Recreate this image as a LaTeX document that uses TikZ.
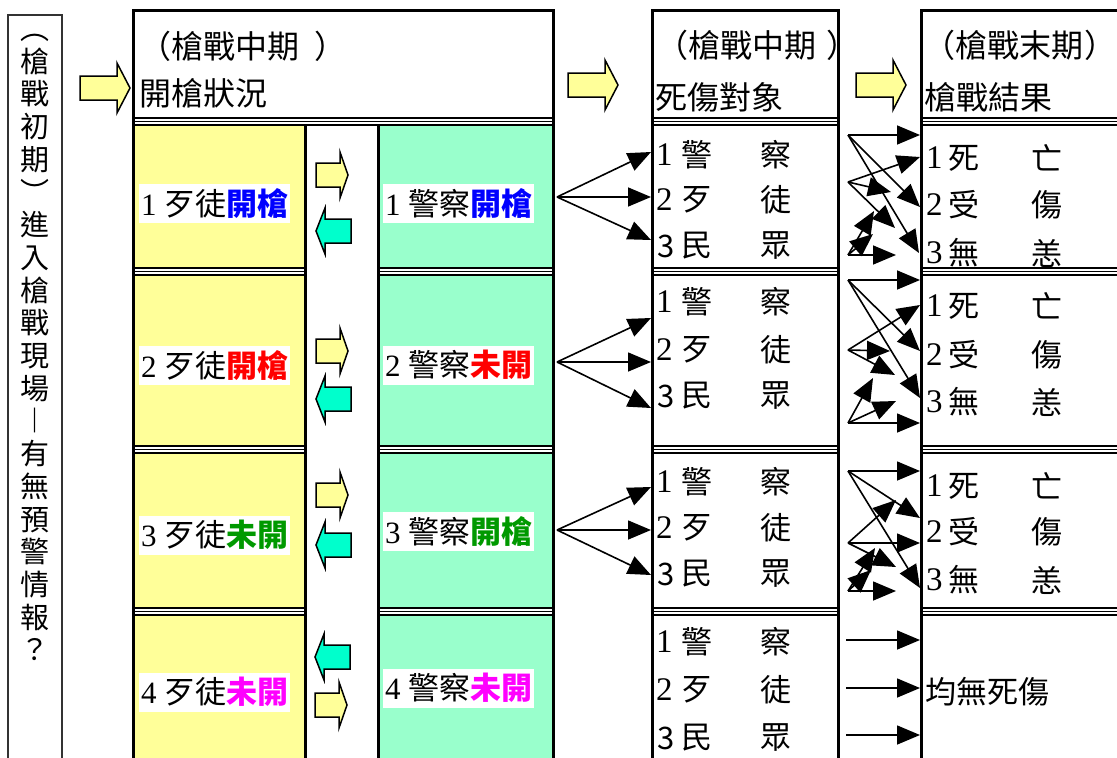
\documentclass[tikz,border=0pt]{standalone}
\usepackage{fontspec}
\setmainfont{Noto Sans CJK TC}
\newfontfamily\dg{Liberation Serif}
\usetikzlibrary{arrows.meta}
\definecolor{cellY}{HTML}{FFFF99}
\definecolor{cellG}{HTML}{99FFCC}
\definecolor{arrC}{HTML}{00FFCC}
\definecolor{txB}{HTML}{0000FF}
\definecolor{txR}{HTML}{FF0000}
\definecolor{txG}{HTML}{009900}
\definecolor{txM}{HTML}{FF00FF}
\begin{document}
\begin{tikzpicture}[x=1pt,y=-1pt,
  frame/.style={line width=3pt},
  conn/.style={line width=1.6pt,-{Triangle[length=23pt,width=19pt]}},
  celltext/.style={anchor=west,fill=white,inner xsep=2pt,inner ysep=0pt,minimum height=39pt,font=\fontsize{31}{31}\selectfont},
  hdr/.style={anchor=west,inner sep=0pt,font=\fontsize{32}{32}\selectfont},
  item/.style={anchor=west,inner sep=0pt,font=\fontsize{31}{31}\selectfont},
  num/.style={anchor=west,inner sep=0pt,font=\fontsize{33}{33}\selectfont},
  pics/bigR/.style={code={\draw[line width=1.5pt,fill=cellY] (0,-12)--(37,-12)--(37,-25)--(50,0)--(37,25)--(37,12)--(0,12)--cycle;}},
  pics/smallR/.style={code={\draw[line width=1.5pt,fill=cellY] (0,-12)--(24,-12)--(24,-23)--(32,0)--(24,23)--(24,12)--(0,12)--cycle;}},
  pics/smallL/.style={code={\draw[line width=1.5pt,fill=arrC] (0,0)--(9,-23)--(9,-12)--(35,-12)--(35,12)--(9,12)--(9,23)--cycle;}},
  pics/sep/.style={code={\fill[white] (0,0) rectangle (#1,8.5);
     \draw[line width=2.4pt] (0,1.2)--(#1,1.2);
     \draw[line width=1.3pt] (0,4.6)--(#1,4.6);
     \draw[line width=2pt] (0,7.5)--(#1,7.5);}}
]
\useasboundingbox (0,0) rectangle (1117,758);
\fill[white] (0,0) rectangle (1117,758);

% column fills
\fill[cellY] (133,125) rectangle (305,780);
\fill[cellG] (378,125) rectangle (553,780);

% cell texts
\node[celltext] (y1) at (139,203) {{\dg 1 }歹徒{\bfseries\color{txB}開槍}};
\node[celltext] (y2) at (139,365) {{\dg 2 }歹徒{\bfseries\color{txR}開槍}};
\node[celltext] (y3) at (139,535) {{\dg 3 }歹徒{\bfseries\color{txG}未開}};
\node[celltext] (y4) at (139,692) {{\dg 4 }歹徒{\bfseries\color{txM}未開}};
\node[celltext] (g1) at (383,203) {{\dg 1 }警察{\bfseries\color{txB}開槍}};
\node[celltext] (g2) at (383,365) {{\dg 2 }警察{\bfseries\color{txR}未開}};
\node[celltext] (g3) at (383,531) {{\dg 3 }警察{\bfseries\color{txG}開槍}};
\node[celltext] (g4) at (383,688) {{\dg 4 }警察{\bfseries\color{txM}未開}};

% column 3 items
\foreach \r/\ya/\yb/\yc in {1/155/200/246,2/302/350/396,3/482/528/574,4/642/690/738}{
  \node[num] (na\r) at (656,\ya) {\dg 1};
  \node[item] (pa\r) at (681,\ya) {警};
  \node[item] (qa\r) at (760,\ya) {察};
  \node[num] (nb\r) at (656,\yb) {\dg 2};
  \node[item] (pb\r) at (681,\yb) {歹};
  \node[item] (qb\r) at (760,\yb) {徒};
  \node[item] (nc\r) at (657,\yc) {3};
  \node[item] (pc\r) at (681,\yc) {民};
  \node[item] (qc\r) at (760,\yc) {眾};
}
% column 4 items
\foreach \r/\ya/\yb/\yc in {1/158/205/253,2/306/355/402,3/486/532/580}{
  \node[num] (ma\r) at (926,\ya) {\dg 1};
  \node[item] (sa\r) at (948,\ya) {死};
  \node[item] (ta\r) at (1031,\ya) {亡};
  \node[num] (mb\r) at (926,\yb) {\dg 2};
  \node[item] (sb\r) at (948,\yb) {受};
  \node[item] (tb\r) at (1031,\yb) {傷};
  \node[num] (mc\r) at (926,\yc) {\dg 3};
  \node[item] (sc\r) at (948,\yc) {無};
  \node[item] (tc\r) at (1031,\yc) {恙};
}
\node[item] (none) at (925,692) {均無死傷};

% separators
\pic at (133,117) {sep=420};
\pic at (652,117) {sep=186};
\pic at (921,117) {sep=220};
\foreach \y in {267,445,607}{
  \pic at (133,\y) {sep=172};
  \pic at (378,\y) {sep=175};
  \pic at (652,\y) {sep=186};
  \pic at (921,\y) {sep=220};
}

% frames
\draw[line width=1.3pt,draw=black!80] (8,15) rectangle (62,790);
\draw[frame] (133,10) rectangle (553,790);
\draw[frame] (305,125) -- (305,790);
\draw[frame] (378,125) -- (378,790);
\draw[frame] (652,10) rectangle (838,790);
\draw[frame] (921,10) rectangle (1160,790);

% headers
\node[hdr] (h1a) at (139,46) {（槍戰中期\hspace{15pt}）};
\node[hdr] (h1b) at (139,93) {開槍狀況};
\node[hdr] (h3a) at (656,45) {（槍戰中期\hspace{10pt}）};
\node[hdr] (h3b) at (655,97) {死傷對象};
\node[hdr] (h4a) at (923,45) {（槍戰末期\hspace{1pt}）};
\node[hdr] (h4b) at (924,97) {槍戰結果};

% vertical text
\node[anchor=north,align=center,inner sep=0pt,font=\fontsize{29}{32.7}\selectfont] (vt) at (35,34)
 {︵\\槍\\戰\\初\\期\\︶\\進\\入\\槍\\戰\\現\\場\\︱\\有\\無\\預\\警\\情\\報\\？};

% block arrows
\pic at (80,88) {bigR};
\pic at (568,85) {bigR};
\pic at (856,85) {bigR};
\pic at (316,175) {smallR};
\pic at (316,231) {smallL};
\pic at (316,351) {smallR};
\pic at (316,399) {smallL};
\pic at (316,495) {smallR};
\pic at (316,545) {smallL};
\pic at (315,657) {smallL};
\pic at (315,705) {smallR};

% fan connectors
\foreach \r/\ys/\ya/\yb/\yc in {1/197/152/197/240,2/362/318/362/408,3/530/487/530/575}{
  \coordinate (fs\r) at (557,\ys);
  \coordinate (fa\r) at (651,\ya);
  \coordinate (fb\r) at (651,\yb);
  \coordinate (fc\r) at (651,\yc);
  \draw[conn] (fs\r) -- (fa\r);
  \draw[conn] (fs\r) -- (fb\r);
  \draw[conn] (fs\r) -- (fc\r);
}

% group 1
\coordinate (A1) at (848,135); \coordinate (B1) at (848,182); \coordinate (C1) at (848,255);
\coordinate (A1a) at (920,135); \coordinate (A1b) at (920,207); \coordinate (A1c) at (919,253);
\coordinate (B1a) at (920,157); \coordinate (B1b) at (891,192); \coordinate (B1c) at (895,228);
\coordinate (C1a) at (896,255); \coordinate (C1b) at (874,211); \coordinate (C1c) at (873,234);
% group 2
\coordinate (A2) at (848,280); \coordinate (B2) at (848,350); \coordinate (C2) at (848,423);
\coordinate (A2a) at (920,280); \coordinate (A2b) at (920,351); \coordinate (A2c) at (920,398);
\coordinate (B2a) at (920,305); \coordinate (B2b) at (890,351); \coordinate (B2c) at (895,375);
\coordinate (C2a) at (920,423); \coordinate (C2b) at (873,378); \coordinate (C2c) at (896,401);
% group 3
\coordinate (A3) at (848,471); \coordinate (B3) at (848,543); \coordinate (C3) at (848,591);
\coordinate (A3a) at (920,471); \coordinate (A3b) at (920,518); \coordinate (A3c) at (920,588);
\coordinate (B3a) at (896,500); \coordinate (B3b) at (920,543); \coordinate (B3c) at (896,567);
\coordinate (C3a) at (896,591); \coordinate (C3b) at (875,548); \coordinate (C3c) at (871,570);
\foreach \g in {1,2,3}{
  \foreach \s in {A,B,C}{
    \foreach \t in {a,b,c}{
      \draw[conn] (\s\g) -- (\s\g\t);
    }
  }
}
% group 4
\foreach \i/\y in {1/640,2/688,3/735}{
  \coordinate (D\i) at (846,\y);
  \coordinate (E\i) at (920,\y);
  \draw[conn] (D\i) -- (E\i);
}
\end{tikzpicture}
\end{document}
